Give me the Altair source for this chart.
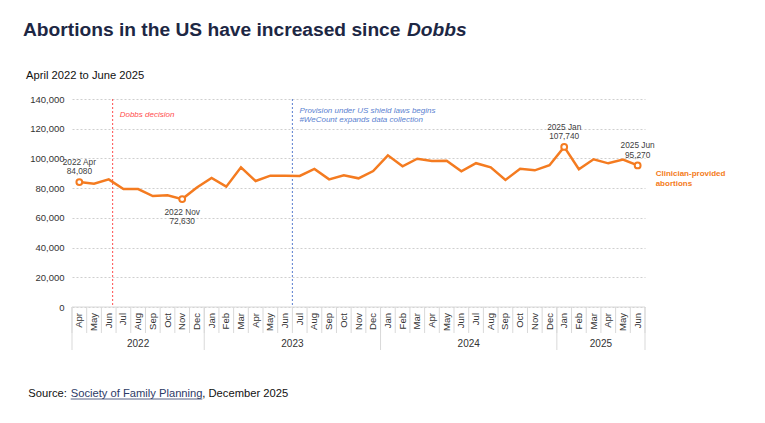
import calendar
from datetime import date

import altair as alt
import pandas as pd

# ---------------- data ----------------
months = ["Apr", "May", "Jun", "Jul", "Aug", "Sep", "Oct", "Nov", "Dec",
          "Jan", "Feb", "Mar", "Apr", "May", "Jun", "Jul", "Aug", "Sep", "Oct", "Nov", "Dec",
          "Jan", "Feb", "Mar", "Apr", "May", "Jun", "Jul", "Aug", "Sep", "Oct", "Nov", "Dec",
          "Jan", "Feb", "Mar", "Apr", "May", "Jun"]
years = [2022] * 9 + [2023] * 12 + [2024] * 12 + [2025] * 6
abortions = [84080, 83000, 85900, 79400, 79400, 74700, 75200, 72630, 80500,
             86800, 81000, 94000, 84800, 88400, 88400, 88200, 92900, 85900, 88600, 86600, 91500,
             102100, 94700, 99800, 98300, 98500, 91300, 96800, 94000, 85500, 93100, 92000, 95400,
             107740, 92700, 99400, 96700, 99200, 95270]
highlight_above = ["2022 Apr", "2025 Jan", "2025 Jun"]
highlight_below = ["2022 Nov"]
event_dates = ["2022-06-24", "2023-07-01"]
event_texts = ["Dobbs decision",
               "Provision under US shield laws begins\n#WeCount expands data collection"]
y_ticks = [0, 20000, 40000, 60000, 80000, 100000, 120000, 140000]
series_name = "Clinician-provided\nabortions"

FONT = "Liberation Sans"
ORANGE = "#f47b20"
GRAY = "#d9d9d9"
TEXT = "#404040"

# ---------------- tables ----------------
df = pd.DataFrame({"idx": list(range(len(months))), "mon": months,
                   "year": years, "value": abortions})
df["key"] = df["year"].astype(str) + " " + df["mon"]
df["amount"] = df["value"].map(lambda v: f"{v:,}")
df["label"] = df["key"] + "\n" + df["amount"]

n = len(months)
bounds = pd.DataFrame({"b": [i - 0.5 for i in range(n + 1)]})
year_bounds = pd.DataFrame({"b": [-0.5] + [i + 0.5 for i in range(n - 1) if years[i] != years[i + 1]] + [n - 0.5]})


def event_pos(s):
    d = date.fromisoformat(s)
    mi = (d.year - years[0]) * 12 + d.month - 4
    return mi + (d.day - 1) / calendar.monthrange(d.year, d.month)[1] - 0.5


ev = pd.DataFrame({"pos": [event_pos(s) for s in event_dates], "text": event_texts})

W, H = 573, 208
xs = alt.Scale(domain=[-0.5, n - 0.5], nice=False, zero=False)
ys = alt.Scale(domain=[0, 140000], nice=False)
X = alt.X("idx:Q", scale=xs, axis=None)
yaxis = alt.Axis(values=y_ticks, format=",d", grid=True, gridDash=[2, 2],
                 gridColor="#cfcfcf", gridWidth=1, domain=False, ticks=False,
                 labelPadding=8, labelFontSize=9.5, labelColor="#333333",
                 labelFont=FONT, title=None)
Y = alt.Y("value:Q", scale=ys, axis=yaxis)

base = alt.Chart(df)

baseline = alt.Chart(pd.DataFrame({"a": [-0.5], "b": [n - 0.5]})).mark_rule(
    color=GRAY, strokeWidth=1).encode(
    x=alt.X("a:Q", scale=xs, axis=None), x2="b:Q", y=alt.value(H))

month_ticks = alt.Chart(bounds).mark_rule(color=GRAY, strokeWidth=1).encode(
    x=alt.X("b:Q", scale=xs, axis=None), y=alt.value(H), y2=alt.value(H + 26))

year_ticks = alt.Chart(year_bounds).mark_rule(color=GRAY, strokeWidth=1).encode(
    x=alt.X("b:Q", scale=xs, axis=None), y=alt.value(H), y2=alt.value(H + 43))

month_labels = base.mark_text(angle=270, align="right", baseline="middle",
                              font=FONT, fontSize=9.5, color="#333333").encode(
    x=X, y=alt.value(H + 6), text="mon:N")

year_labels = base.transform_aggregate(mid="mean(idx)", groupby=["year"]).mark_text(
    baseline="middle", font=FONT, fontSize=10, color="#333333").encode(
    x=alt.X("mid:Q", scale=xs, axis=None), y=alt.value(H + 37), text="year:N")

event_layers = []
for i, col in enumerate(["#ff4d4d", "#5a7fd0"]):
    e = alt.Chart(ev.iloc[[i]])
    event_layers.append(e.mark_rule(color=col, strokeDash=[2, 2], strokeWidth=1).encode(
        x=alt.X("pos:Q", scale=xs, axis=None)))
    event_layers.append(e.mark_text(align="left", baseline="alphabetic", dx=7,
                                    lineBreak="\n", lineHeight=9.4, font=FONT, fontSize=8,
                                    fontStyle="italic", color=col).encode(
        x=alt.X("pos:Q", scale=xs, axis=None),
        y=alt.value(18 if i == 0 else 14), text="text:N"))

line = base.mark_line(color=ORANGE, strokeWidth=2.5).encode(x=X, y=Y)

pts = base.transform_filter(
    alt.FieldOneOfPredicate(field="key", oneOf=highlight_above + highlight_below)
).mark_point(shape="circle", filled=True, fill="white", stroke=ORANGE,
             strokeWidth=2, size=34, opacity=1).encode(x=X, y=Y)

lab_above = base.transform_filter(
    alt.FieldOneOfPredicate(field="key", oneOf=highlight_above)
).mark_text(align="center", baseline="alphabetic", dy=-17, lineBreak="\n",
            lineHeight=9.4, font=FONT, fontSize=8.3, color=TEXT).encode(
    x=X, y=Y, text="label:N")

lab_below = base.transform_filter(
    alt.FieldOneOfPredicate(field="key", oneOf=highlight_below)
).mark_text(align="center", baseline="alphabetic", dy=15.5, lineBreak="\n",
            lineHeight=9.4, font=FONT, fontSize=8.3, color=TEXT).encode(
    x=X, y=Y, text="label:N")

series_lab = base.transform_filter(alt.datum.idx == n - 1).mark_text(
    align="left", baseline="alphabetic", dx=18, dy=10.7, lineBreak="\n", lineHeight=9.4,
    font=FONT, fontSize=8, fontWeight="bold", color=ORANGE).encode(
    x=X, y=Y, text=alt.value(series_name))

one = alt.Chart(pd.DataFrame({"z": [0]}))
title1 = one.mark_text(align="left", baseline="alphabetic", font=FONT, fontSize=19.2,
                       fontWeight="bold", color="#1d2744").encode(
    x=alt.value(-49), y=alt.value(-63),
    text=alt.value("Abortions in the US have increased since"))
title2 = one.mark_text(align="left", baseline="alphabetic", font=FONT, fontSize=19.2,
                       fontWeight="bold", fontStyle="italic", color="#1d2744").encode(
    x=alt.value(335), y=alt.value(-63), text=alt.value("Dobbs"))
subtitle = one.mark_text(align="left", baseline="alphabetic", font=FONT, fontSize=11.2,
                         color="#111111").encode(
    x=alt.value(-46), y=alt.value(-20), text=alt.value("April 2022 to June 2025"))
src1 = one.mark_text(align="left", baseline="alphabetic", font=FONT, fontSize=11.2,
                     color="#111111").encode(
    x=alt.value(-43.7), y=alt.value(298), text=alt.value("Source: "))
src2 = one.mark_text(align="left", baseline="alphabetic", font=FONT, fontSize=11.2,
                     color="#2d3a66").encode(
    x=alt.value(-1.3), y=alt.value(298), text=alt.value("Society of Family Planning"))
src_ul = one.mark_rule(color="#2d3a66", strokeWidth=0.8).encode(
    x=alt.value(-1.3), x2=alt.value(130.3), y=alt.value(300))
src3 = one.mark_text(align="left", baseline="alphabetic", font=FONT, fontSize=11.2,
                     color="#111111").encode(
    x=alt.value(130.3), y=alt.value(298), text=alt.value(", December 2025"))

chart = alt.layer(
    baseline, month_ticks, year_ticks, month_labels, year_labels,
    *event_layers, line, pts, lab_above, lab_below, series_lab,
    title1, title2, subtitle, src1, src2, src_ul, src3,
).properties(
    width=W, height=H,
    background="white",
    autosize=alt.AutoSizeParams(type="none"),
    padding={"left": 72, "top": 99, "right": 120, "bottom": 116},
).configure_view(strokeWidth=0, stroke="transparent")

chart.save("out.html", embed_options={"renderer": "svg", "actions": False})
